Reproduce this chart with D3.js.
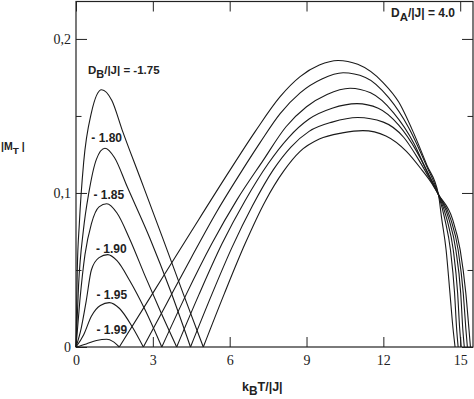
<!DOCTYPE html>
<html>
<head>
<meta charset="utf-8">
<script src="https://cdn.jsdelivr.net/npm/d3@7"></script>
<style>
  body { margin: 0; background: #fff; }
  .lbl { font-family: "Liberation Sans", Arial, sans-serif; font-weight: bold; fill: #222; }
  .tk text { font-family: "Liberation Serif", "DejaVu Serif", serif !important; font-size: 14px; fill: #222; }
</style>
</head>
<body>
<svg id="chart" width="474" height="399"></svg>
<script>
// |M_T| vs k_B T/|J| for D_A/|J| = 4.0, curves labelled by D_B/|J|
// each curve: [T, |M|], interior zeros split the curve into humps
var curve175 = [[0,0],[0.05,0.05],[0.13,0.08],[0.3,0.12],[0.6,0.152],[1.0,0.167],[1.4,0.16],[1.8,0.141],[2.5,0.11],[3.4,0.07],[4.2,0.034],[4.97,0],
  [5.8,0.035],[6.6,0.067],[7.4,0.095],[8.1,0.114],[8.75,0.127],[9.5,0.135],[10.4,0.139],[11.2,0.1405],[12.1,0.137],[12.9,0.127],[13.5,0.115],[13.9,0.106],[14.15,0.099],
  [14.7,0.083],[15.0,0.063],[15.22,0.035],[15.34,0.012],[15.4,0]];
var curve180 = [[0,0],[0.1,0.04],[0.29,0.076],[0.5,0.1],[0.8,0.122],[1.13,0.129],[1.5,0.123],[2.0,0.104],[2.9,0.07],[3.7,0.036],[4.47,0],
  [5.3,0.034],[6.1,0.065],[6.9,0.092],[7.7,0.115],[8.4,0.13],[9.1,0.14],[10.0,0.146],[11.0,0.149],[12.0,0.146],[12.8,0.136],[13.4,0.121],[13.85,0.108],[14.15,0.099],
  [14.63,0.083],[14.92,0.063],[15.12,0.035],[15.22,0.012],[15.28,0]];
var curve185 = [[0,0],[0.15,0.03],[0.35,0.06],[0.6,0.08],[0.9,0.091],[1.2,0.093],[1.6,0.087],[2.1,0.07],[2.7,0.046],[3.3,0.023],[3.93,0],
  [4.8,0.034],[5.7,0.067],[6.6,0.095],[7.5,0.119],[8.3,0.136],[9.1,0.148],[10.0,0.155],[10.97,0.158],[11.8,0.155],[12.6,0.144],[13.3,0.127],[13.8,0.111],[14.15,0.099],
  [14.56,0.083],[14.83,0.063],[15.02,0.035],[15.1,0.012],[15.16,0]];
var curve190 = [[0,0],[0.2,0.012],[0.4,0.03],[0.6,0.05],[0.9,0.058],[1.24,0.06],[1.6,0.056],[2.1,0.043],[2.7,0.024],[3.35,0],
  [4.3,0.034],[5.3,0.067],[6.3,0.096],[7.3,0.121],[8.2,0.143],[9.0,0.156],[9.8,0.164],[10.7,0.168],[11.5,0.165],[12.4,0.152],[13.2,0.132],[13.7,0.114],[14.15,0.099],
  [14.48,0.083],[14.73,0.063],[14.9,0.035],[14.98,0.012],[15.04,0]];
var curve195 = [[0,0],[0.3,0.008],[0.6,0.02],[0.95,0.027],[1.3,0.0288],[1.7,0.025],[2.2,0.013],[2.63,0],
  [3.5,0.027],[4.5,0.058],[5.5,0.088],[6.5,0.115],[7.2,0.133],[7.97,0.1515],[8.75,0.165],[9.6,0.174],[10.43,0.178],[11.3,0.175],[12.2,0.162],[13.0,0.142],[13.7,0.117],[14.15,0.099],
  [14.4,0.083],[14.62,0.063],[14.78,0.035],[14.86,0.012],[14.92,0]];
var curve199 = [[0,0],[0.4,0.002],[0.8,0.0042],[1.2,0.005],[1.45,0.0035],[1.69,0],
  [3.0,0.035],[4.5,0.075],[6.0,0.1145],[7.0,0.14],[7.97,0.1625],[8.75,0.1755],[9.5,0.183],[10.23,0.186],[11.0,0.1835],[12.0,0.1715],[12.6,0.159],[13.18,0.139],[13.7,0.118],[14.15,0.099],
  [14.28,0.083],[14.45,0.063],[14.6,0.035],[14.72,0.012],[14.8,0]];

var allCurves = [curve175, curve180, curve185, curve190, curve195, curve199];
var curveLabels = ["- 1.80", "- 1.85", "- 1.90", "- 1.95", "- 1.99"];
var curveLabelPos = [[0.6, 0.133], [0.68, 0.096], [0.78, 0.061], [0.8, 0.031], [0.8, 0.0085]];

var xTicks = [0, 3, 6, 9, 12, 15];
var yTicks = [0, 0.1, 0.2];
var yMinorTicks = [0.05, 0.15];

var svg = d3.select('#chart');
var padL = 76, padR = 473, padT = 1.5, padB = 347;

var x = d3.scaleLinear().domain([0, 15.5]).range([padL, padR]);
var y = d3.scaleLinear().domain([0, 0.2243]).range([padB, padT]);

var yFmt = function (d) { return d === 0 ? "0" : d3.format(".1f")(d).replace(".", ","); };

// axes, ticks point inward
var gx = svg.append('g').attr('class', 'tk')
    .attr('transform', 'translate(0,' + padB + ')')
    .call(d3.axisBottom(x).tickValues(xTicks).tickSizeInner(-10).tickSizeOuter(0).tickPadding(8));
svg.append('g')
    .attr('transform', 'translate(0,' + padT + ')')
    .call(d3.axisTop(x).tickValues(xTicks).tickSizeInner(-10).tickSizeOuter(0).tickFormat(''));
var gy = svg.append('g').attr('class', 'tk')
    .attr('transform', 'translate(' + padL + ',0)')
    .call(d3.axisLeft(y).tickValues(yTicks).tickSizeInner(-11).tickSizeOuter(0).tickPadding(5).tickFormat(yFmt));
svg.append('g')
    .attr('transform', 'translate(' + padL + ',0)')
    .call(d3.axisLeft(y).tickValues(yMinorTicks).tickSizeInner(-5.5).tickSizeOuter(0).tickFormat(''));
svg.append('g')
    .attr('transform', 'translate(' + padR + ',0)')
    .call(d3.axisRight(y).tickValues(yTicks).tickSizeInner(-11).tickSizeOuter(0).tickFormat(''));
svg.append('g')
    .attr('transform', 'translate(' + padR + ',0)')
    .call(d3.axisRight(y).tickValues(yMinorTicks).tickSizeInner(-5.5).tickSizeOuter(0).tickFormat(''));

svg.selectAll('.domain').remove();
svg.selectAll('.tick line').attr('stroke', '#222').attr('stroke-width', 1);
svg.selectAll('.tk').attr('font-family', null).attr('font-size', null);
svg.selectAll('.tk text')
    .style('font-family', '"Liberation Serif", "DejaVu Serif", serif')
    .style('font-size', '14px');

// frame
svg.append('rect')
    .attr('x', padL).attr('y', padT)
    .attr('width', padR - padL).attr('height', padB - padT)
    .attr('fill', 'none').attr('stroke', '#222').attr('stroke-width', 1.2);

// curves: split each one into humps at its interior zeros
var line = d3.line()
    .x(function (d) { return x(d[0]); })
    .y(function (d) { return y(d[1]); })
    .curve(d3.curveMonotoneX);

var segments = [];
allCurves.forEach(function (pts) {
    var seg = [pts[0]];
    for (var i = 1; i < pts.length; i++) {
        seg.push(pts[i]);
        if (pts[i][1] === 0 && i < pts.length - 1) {
            segments.push(seg);
            seg = [pts[i]];
        }
    }
    segments.push(seg);
});

svg.append('g').selectAll('path')
    .data(segments)
    .enter()
    .append('path')
    .attr('d', line)
    .attr('fill', 'none')
    .attr('stroke', '#1a1a1a')
    .attr('stroke-width', 1.1);

// curve labels
svg.append('g').selectAll('text')
    .data(curveLabels)
    .enter()
    .append('text')
    .attr('class', 'lbl')
    .attr('font-size', 12)
    .attr('x', function (d, i) { return x(curveLabelPos[i][0]); })
    .attr('y', function (d, i) { return y(curveLabelPos[i][1]); })
    .text(function (d) { return d; });

function subText(xp, yp, size, parts) {
    var t = svg.append('text').attr('class', 'lbl').attr('font-size', size)
        .attr('x', xp).attr('y', yp);
    parts.forEach(function (p) {
        var ts = t.append('tspan').text(p[0]);
        if (p[1] === 'sub') ts.attr('dy', size * 0.35).attr('font-size', size * 0.95);
        if (p[1] === 'up') ts.attr('dy', -size * 0.35);
    });
    return t;
}

subText(88, 74, 11.5, [['D'], ['B', 'sub'], ['/|J| = -1.75', 'up']]);
subText(391, 16.5, 12, [['D'], ['A', 'sub'], ['/|J| = 4.0', 'up']]);
subText(1, 150, 10.5, [['|M'], ['T', 'sub'], [' |', 'up']]);
subText(242, 391, 12.5, [['k'], ['B', 'sub'], ['T/|J|', 'up']]);
</script>
</body>
</html>
